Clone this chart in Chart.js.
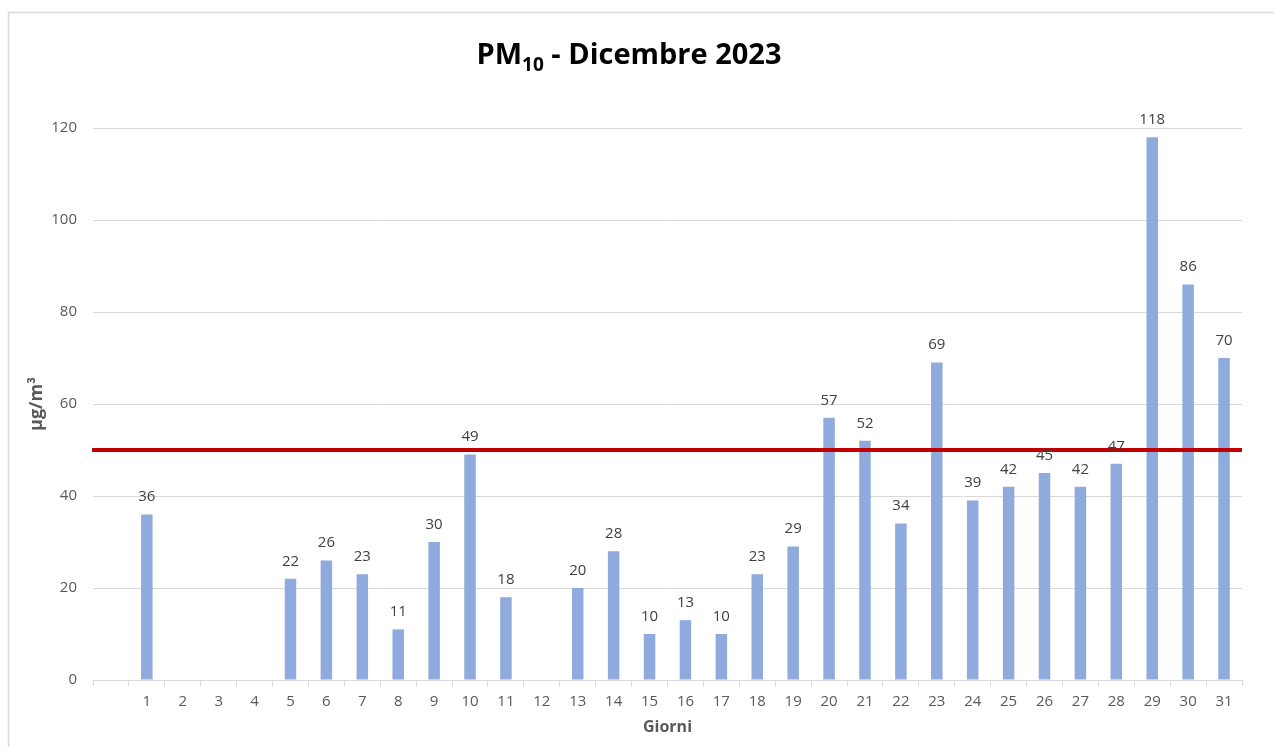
<!DOCTYPE html>
<html>
<head>
<meta charset="utf-8">
<title>PM10 - Dicembre 2023</title>
<script src="https://cdn.jsdelivr.net/npm/chart.js@4"></script>
<style>
	body { margin: 0; background: #ffffff; }
	#wrap { position: relative; width: 1274px; height: 747px; }
</style>
</head>
<body>
<div id="wrap"><canvas id="chart"></canvas></div>
<script>
// days of December, first slot is an empty category as in the original
const giorni = ["", "1", "2", "3", "4", "5", "6", "7", "8", "9", "10", "11", "12", "13", "14", "15",
	"16", "17", "18", "19", "20", "21", "22", "23", "24", "25", "26", "27", "28", "29", "30", "31"];
const pm10 = [null, 36, null, null, null, 22, 26, 23, 11, 30, 49, 18, null, 20, 28, 10,
	13, 10, 23, 29, 57, 52, 34, 69, 39, 42, 45, 42, 47, 118, 86, 70];
const limite = 50;
const y_ticks = [0, 20, 40, 60, 80, 100, 120];

const font_family = "'Open Sans', 'Noto Sans', sans-serif";
const grey_text = "#595959";
const grid_grey = "#d9d9d9";

// frame round the chart
const frame_plugin = {
	id: "frame",
	beforeDraw(chart) {
		const c = chart.ctx;
		c.save();
		c.fillStyle = "#ffffff";
		c.fillRect(0, 0, chart.width, chart.height);
		c.strokeStyle = grid_grey;
		c.lineWidth = 1.5;
		c.strokeRect(8.5, 12.5, chart.width + 20, chart.height + 20);
		c.restore();
	}
}

// daily limit line, placed with the y scale
const limit_plugin = {
	id: "limitLine",
	afterDatasetsDraw(chart) {
		const c = chart.ctx;
		const area = chart.chartArea;
		const y = chart.scales.y.getPixelForValue(limite);
		c.save();
		c.strokeStyle = "#c00000";
		c.lineWidth = 4;
		c.beginPath();
		c.moveTo(area.left - 1, y);
		c.lineTo(area.right, y);
		c.stroke();
		c.restore();
	}
}

// title with the subscript "10"
const title_plugin = {
	id: "pmTitle",
	afterDraw(chart) {
		const c = chart.ctx;
		const big = "bold 29px " + font_family;
		const small = "bold 19px " + font_family;
		const parts = [["PM", big, 0], ["10", small, 7], [" - Dicembre 2023", big, 0]];
		let total = 0;
		parts.forEach(p => { c.font = p[1]; total += c.measureText(p[0]).width; });
		let x = 629 - total / 2;
		const base = 64;
		c.save();
		c.fillStyle = "#000000";
		c.textBaseline = "alphabetic";
		c.textAlign = "left";
		parts.forEach(p => {
			c.font = p[1];
			c.fillText(p[0], x, base + p[2]);
			x += c.measureText(p[0]).width;
		});
		c.restore();
	}
}

// value above each bar
const labels_plugin = {
	id: "barValues",
	afterDatasetsDraw(chart) {
		const c = chart.ctx;
		const meta = chart.getDatasetMeta(0);
		c.save();
		c.font = "15px " + font_family;
		c.fillStyle = "#404040";
		c.textAlign = "center";
		c.textBaseline = "bottom";
		meta.data.forEach((bar, i) => {
			const v = pm10[i];
			if (v === null) return;
			c.fillText(String(v), bar.x, bar.y - 10);
		});
		c.restore();
	}
}

const data = {
	labels: giorni,
	datasets: [{
		label: "PM10",
		data: pm10,
		backgroundColor: "#8faadc",
		categoryPercentage: 1,
		barPercentage: 0.32
	}]
}

const options = {
	responsive: true,
	maintainAspectRatio: false,
	animation: false,
	layout: {
		padding: { top: 128, left: 0, right: 32, bottom: 0 }
	},
	scales: {
		x: {
			grid: {
				offset: true,
				drawOnChartArea: false,
				color: grid_grey,
				tickLength: 6
			},
			border: { color: grid_grey },
			ticks: {
				color: grey_text,
				font: { size: 15, family: font_family },
				padding: 7,
				maxRotation: 0,
				autoSkip: false
			},
			title: {
				display: true,
				text: "Giorni",
				color: grey_text,
				font: { size: 16, weight: "bold", family: font_family },
				padding: { top: 0, bottom: 10 }
			},
			afterFit: scale => { scale.height = 67; }
		},
		y: {
			min: 0,
			max: 120,
			afterBuildTicks: scale => { scale.ticks = y_ticks.map(v => ({ value: v })); },
			grid: {
				color: grid_grey,
				drawTicks: false
			},
			border: { display: false },
			ticks: {
				color: grey_text,
				font: { size: 15, family: font_family },
				padding: 16
			},
			title: {
				display: true,
				text: "µg/m³",
				color: grey_text,
				font: { size: 18, weight: "bold", family: font_family },
				padding: { top: 26, bottom: 0 }
			},
			afterFit: scale => { scale.width = 93; }
		}
	},
	plugins: {
		legend: { display: false },
		tooltip: { enabled: false },
		title: { display: false }
	}
}

new Chart(document.getElementById("chart"), {
	type: "bar",
	data: data,
	options: options,
	plugins: [frame_plugin, limit_plugin, labels_plugin, title_plugin]
});
</script>
</body>
</html>
